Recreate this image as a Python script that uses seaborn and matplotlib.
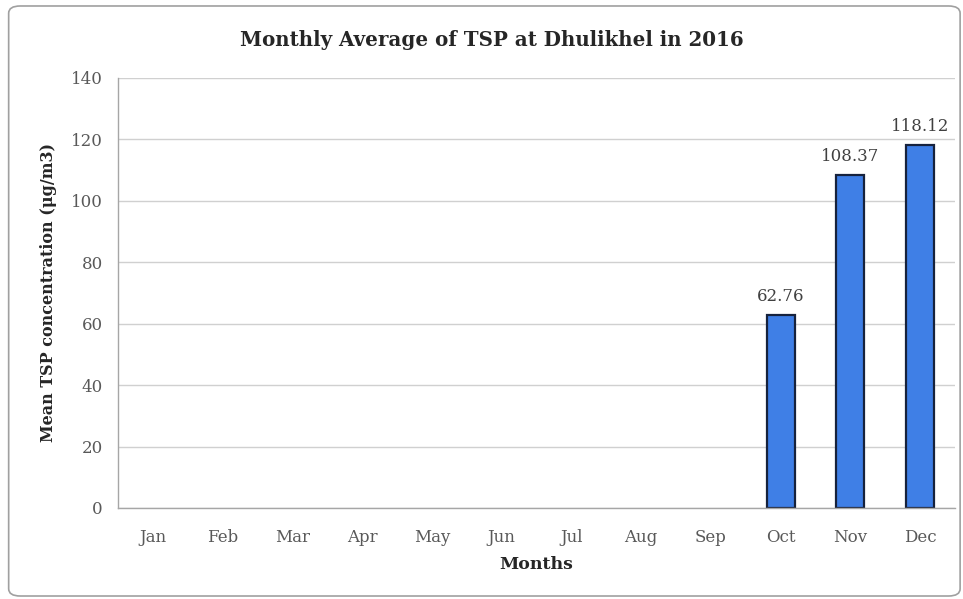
import numpy as np
import pandas as pd
import seaborn as sns
import matplotlib.pyplot as plt
from matplotlib.patches import FancyBboxPatch

# Monthly mean TSP (ug/m3); no measurements before October
months = ['Jan', 'Feb', 'Mar', 'Apr', 'May', 'Jun',
          'Jul', 'Aug', 'Sep', 'Oct', 'Nov', 'Dec']
tsp = [np.nan, np.nan, np.nan, np.nan, np.nan, np.nan,
       np.nan, np.nan, np.nan, 62.76, 108.37, 118.12]

df = pd.DataFrame({'Month': months, 'TSP': tsp})

sns.set_style('white')
plt.rcParams['font.family'] = ['DejaVu Serif']

fig = plt.figure(figsize=(9.63, 5.99), dpi=100)
ax = fig.add_axes([0.1225, 0.152, 0.8692, 0.718])

sns.barplot(data=df, x='Month', y='TSP', order=months, ax=ax,
            color='#3f7fe6', edgecolor='#16223d', linewidth=1.6,
            width=0.4, saturation=1, errorbar=None)

for p in ax.patches:
    h = p.get_height()
    if np.isfinite(h) and h > 0:
        ax.annotate(f'{h:.2f}', (p.get_x() + p.get_width() / 2, h),
                    xytext=(0, 7), textcoords='offset points',
                    ha='center', va='bottom', fontsize=12, color='#404040')

ax.set_ylim(0, 140)
ax.set_yticks(range(0, 141, 20))
ax.set_xlim(-0.5, 11.5)
ax.yaxis.grid(True, color='#d0d0d0', linewidth=1)
ax.set_axisbelow(True)
for s in ['top', 'right']:
    ax.spines[s].set_visible(False)
for s in ['left', 'bottom']:
    ax.spines[s].set_color('#a6a6a6')
    ax.spines[s].set_linewidth(1)
ax.tick_params(axis='both', length=0, labelsize=12, colors='#595959')
ax.tick_params(axis='y', pad=11)
ax.tick_params(axis='x', pad=15)

ax.set_xlabel('Months', fontsize=12.5, fontweight='bold', color='#262626', labelpad=7)
ax.set_ylabel('Mean TSP concentration (μg/m3)', fontsize=11.5,
              fontweight='bold', color='#262626', labelpad=10)
fig.text(0.511, 0.933, 'Monthly Average of TSP at Dhulikhel in 2016',
         ha='center', va='center', fontsize=14.3, fontweight='bold', color='#262626')

# rounded frame around the whole chart
frame = FancyBboxPatch((0.009, 0.005), 0.988, 0.985, transform=fig.transFigure,
                       boxstyle='round,pad=0,rounding_size=0.012',
                       facecolor='none', edgecolor='#a0a0a0', linewidth=1.2)
fig.patches.append(frame)

fig.savefig('out.png', dpi=100)
